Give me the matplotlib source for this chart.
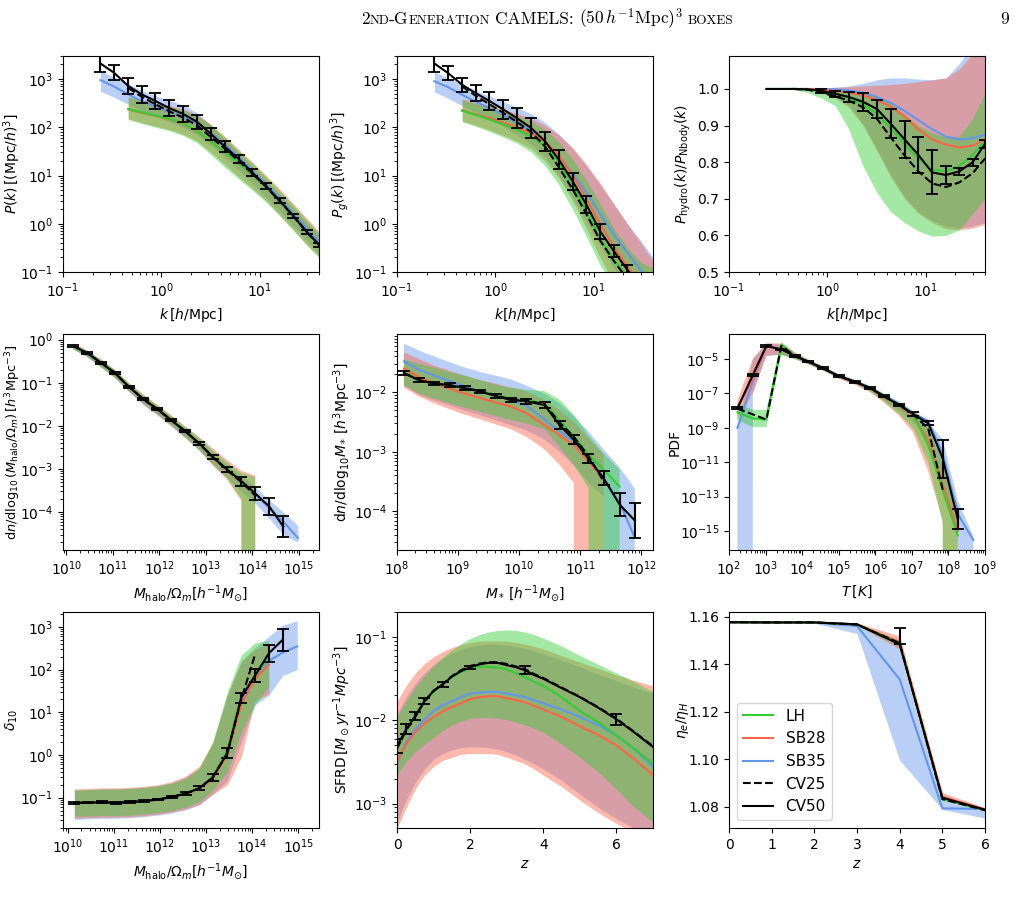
import numpy as np
import matplotlib
matplotlib.use("Agg")
import matplotlib.pyplot as plt
from matplotlib.ticker import LogLocator, FixedLocator

# ---------------- colours ----------------
C_LH, C_SB28, C_SB35 = "#33cc33", "tomato", "cornflowerblue"

# ---------------- panel 1 & 2 & 3 : power spectra ----------------
k_all = [0.24, 0.33, 0.46, 0.63, 0.87, 1.2, 1.65, 2.3, 3.2, 4.4, 6.1, 8.4, 11.6, 16, 22, 30, 40]
k_sub = [0.46, 0.63, 0.87, 1.2, 1.65, 2.3, 3.2, 4.4, 6.1, 8.4, 11.6, 16, 22, 30, 40]

pk_cv50 = [2100, 1350, 720, 480, 350, 250, 190, 130, 72, 40, 22, 11.5, 6.0, 3.0, 1.45, 0.68, 0.37]
pk_cv50_dex = [0.17, 0.16, 0.16, 0.17, 0.17, 0.17, 0.16, 0.15, 0.13, 0.11, 0.09, 0.07, 0.06, 0.05, 0.04, 0.04, 0.04]
pk_cv25 = [650, 430, 300, 215, 160, 110, 62, 36, 20, 11, 5.8, 2.9, 1.42, 0.67, 0.36]
pk_sb35 = [950, 700, 480, 350, 270, 210, 165, 120, 75, 44, 24, 12.5, 6.5, 3.3, 1.6, 0.8, 0.42]
pk_sb35_lo = [560, 420, 300, 220, 170, 130, 100, 70, 42, 24, 13, 6.8, 3.5, 1.8, 0.9, 0.45, 0.24]
pk_sb35_hi = [1450, 1100, 800, 580, 450, 360, 290, 200, 110, 56, 30, 15.5, 8, 4.1, 2.1, 1.05, 0.6]
pk_lh = [240, 205, 175, 150, 120, 85, 50, 30, 18, 10.5, 5.7, 2.9, 1.4, 0.68, 0.37]
pk_lh_lo = [145, 120, 100, 85, 68, 48, 27, 15, 8.5, 5, 2.8, 1.45, 0.72, 0.36, 0.2]
pk_lh_hi = [420, 360, 310, 270, 230, 175, 110, 62, 33, 18, 9.5, 4.8, 2.4, 1.2, 0.65]
pk_sb28 = [235, 200, 172, 147, 118, 84, 50, 30, 18, 10.4, 5.7, 2.9, 1.4, 0.68, 0.37]
pk_sb28_lo = [150, 125, 105, 90, 72, 52, 30, 17, 9.5, 5.4, 3, 1.5, 0.75, 0.37, 0.21]
pk_sb28_hi = [430, 370, 320, 280, 240, 185, 115, 65, 35, 19, 10, 5.2, 2.6, 1.3, 0.7]

pg_cv50 = [2100, 1330, 760, 510, 350, 235, 155, 97, 51, 21.5, 7.6, 2.5, 0.7, 0.27, 0.11, 0.05, 0.025]
pg_cv50_dex = [0.17, 0.15, 0.15, 0.17, 0.18, 0.2, 0.2, 0.2, 0.2, 0.2, 0.18, 0.17, 0.16, 0.12, 0.1, 0.08, 0.08]
pg_cv25 = [700, 450, 300, 200, 130, 80, 40, 15, 5.2, 1.6, 0.45, 0.17, 0.07, 0.032, 0.016]
pg_sb35 = [900, 680, 470, 340, 250, 180, 125, 85, 50, 25, 11, 4.5, 1.6, 0.6, 0.25, 0.11, 0.05]
pg_sb35_lo = [540, 400, 280, 200, 150, 105, 70, 45, 24, 10, 3.5, 1.1, 0.35, 0.12, 0.05, 0.022, 0.01]
pg_sb35_hi = [1400, 1050, 780, 580, 440, 340, 260, 190, 125, 72, 36, 16, 6.5, 2.5, 1.0, 0.45, 0.2]
pg_lh = [220, 180, 145, 115, 90, 65, 40, 19, 6.5, 1.9, 0.5, 0.18, 0.08, 0.035, 0.017]
pg_lh_lo = [130, 105, 82, 63, 47, 31, 16, 6.5, 2.0, 0.55, 0.14, 0.05, 0.022, 0.01, 0.005]
pg_lh_hi = [370, 310, 260, 215, 175, 135, 90, 50, 22, 8, 2.6, 0.8, 0.32, 0.16, 0.12]
pg_sb28 = [225, 185, 155, 125, 100, 76, 50, 27, 10, 3.3, 1.0, 0.33, 0.13, 0.055, 0.026]
pg_sb28_lo = [135, 110, 88, 68, 52, 36, 20, 9, 3, 0.8, 0.2, 0.06, 0.025, 0.011, 0.006]
pg_sb28_hi = [390, 330, 280, 235, 195, 155, 110, 70, 38, 17, 7, 2.6, 1.0, 0.4, 0.17]

r_cv50 = [1.0, 1.0, 1.0, 0.999, 0.995, 0.987, 0.978, 0.965, 0.945, 0.905, 0.862, 0.82, 0.772, 0.765, 0.775, 0.80, 0.85]
r_cv50_err = [0, 0, 0, 0, 0.005, 0.008, 0.015, 0.025, 0.025, 0.04, 0.05, 0.05, 0.06, 0.025, 0.01, 0.01, 0.01]
r_cv25 = [1.0, 0.998, 0.99, 0.98, 0.968, 0.95, 0.918, 0.868, 0.818, 0.775, 0.742, 0.732, 0.745, 0.77, 0.81]
r_lh = [1.0, 0.998, 0.993, 0.985, 0.975, 0.958, 0.932, 0.893, 0.85, 0.81, 0.78, 0.775, 0.79, 0.82, 0.86]
r_lh_lo = [0.998, 0.99, 0.975, 0.955, 0.89, 0.79, 0.716, 0.665, 0.635, 0.612, 0.598, 0.600, 0.615, 0.66, 0.70]
r_lh_hi = [1.0, 1.0, 1.0, 1.0, 0.998, 0.993, 0.98, 0.96, 0.93, 0.9, 0.88, 0.87, 0.87, 0.92, 0.99]
r_sb28 = [1.0, 1.0, 0.998, 0.995, 0.99, 0.983, 0.97, 0.952, 0.925, 0.89, 0.862, 0.848, 0.84, 0.845, 0.862]
r_sb28_lo = [1.0, 0.998, 0.99, 0.975, 0.95, 0.9, 0.83, 0.76, 0.70, 0.66, 0.635, 0.618, 0.615, 0.62, 0.63]
r_sb28_hi = [1.0, 1.0, 1.002, 1.004, 1.006, 1.008, 1.01, 1.012, 1.015, 1.02, 1.025, 1.03, 1.055, 1.095, 1.12]
r_sb35 = [1.0, 1.0, 1.0, 1.0, 1.0, 0.999, 0.996, 0.99, 0.978, 0.962, 0.94, 0.915, 0.89, 0.87, 0.862, 0.866, 0.875]
r_sb35_lo = [1.0, 1.0, 1.0, 0.998, 0.992, 0.978, 0.955, 0.905, 0.835, 0.765, 0.705, 0.665, 0.64, 0.625, 0.62, 0.625, 0.635]
r_sb35_hi = [1.0, 1.0, 1.0, 1.0, 1.002, 1.005, 1.008, 1.015, 1.025, 1.03, 1.03, 1.027, 1.025, 1.03, 1.07, 1.12, 1.2]

# ---------------- panel 4 & 7 : halo mass ----------------
m_halo = [1.4e10, 2.8e10, 5.6e10, 1.1e11, 2.2e11, 4.5e11, 9e11, 1.8e12, 3.6e12, 7.2e12,
          1.4e13, 2.9e13, 5.8e13, 1.15e14, 2.3e14, 4.6e14, 9.5e14]

hmf_cv50 = [0.72, 0.49, 0.29, 0.17, 0.081, 0.042, 0.0245, 0.0136, 0.0075, 0.0039, 0.0019, 0.00096,
            0.00052, 0.00027, 0.000135, 0.000046]
hmf_cv50_dex = [0.02, 0.02, 0.02, 0.02, 0.02, 0.02, 0.02, 0.02, 0.02, 0.03, 0.04, 0.06, 0.1, 0.15, 0.2, 0.25]
hmf_cv25 = [0.72, 0.49, 0.29, 0.17, 0.081, 0.042, 0.0245, 0.0136, 0.0075, 0.0039, 0.0019, 0.00092, 0.0005, 0.00024]
hmf_lh = [0.71, 0.48, 0.285, 0.165, 0.08, 0.042, 0.024, 0.0135, 0.0074, 0.0039, 0.0019, 0.00095, 0.0005, 0.00025]
hmf_lh_lo = [0.6, 0.4, 0.23, 0.135, 0.065, 0.034, 0.019, 0.0105, 0.0056, 0.0028, 0.0013, 0.0006, 0.0002, 0]
hmf_lh_hi = [0.8, 0.56, 0.34, 0.2, 0.098, 0.052, 0.03, 0.017, 0.0095, 0.0052, 0.0027, 0.0014, 0.0008, 0.00065]
hmf_sb28 = [0.72, 0.49, 0.29, 0.168, 0.08, 0.041, 0.024, 0.0133, 0.0073, 0.0038, 0.0018, 0.0009, 0.00048, 0.00024]
hmf_sb28_lo = [0.6, 0.4, 0.23, 0.13, 0.063, 0.032, 0.018, 0.01, 0.0053, 0.0027, 0.0012, 0.00055, 0.00018, 0]
hmf_sb28_hi = [0.82, 0.57, 0.35, 0.205, 0.1, 0.054, 0.031, 0.0175, 0.0098, 0.0055, 0.003, 0.0016, 0.0009, 0.0007]
hmf_sb35 = [0.7, 0.47, 0.28, 0.16, 0.078, 0.04, 0.023, 0.013, 0.0071, 0.0037, 0.0018, 0.0009, 0.00048,
            0.00026, 0.000125, 0.00006, 0.000025]
hmf_sb35_lo = [0.6, 0.4, 0.23, 0.13, 0.062, 0.031, 0.018, 0.0098, 0.0052, 0.0027, 0.0013, 0.00062, 0.0003,
               0.00016, 0.00007, 0.00003, 0.00002]
hmf_sb35_hi = [0.78, 0.54, 0.33, 0.19, 0.094, 0.049, 0.028, 0.016, 0.0088, 0.0047, 0.0024, 0.0012, 0.00068,
               0.00038, 0.00019, 0.0001, 0.000048]

d_cv50 = [0.075, 0.077, 0.078, 0.076, 0.079, 0.083, 0.091, 0.104, 0.125, 0.167, 0.3, 1.1, 22, 72, 240, 500]
d_cv50_dex = [0.03, 0.02, 0.02, 0.02, 0.02, 0.02, 0.02, 0.02, 0.04, 0.04, 0.08, 0.12, 0.12, 0.15, 0.2, 0.26]
d_cv25 = [0.075, 0.077, 0.078, 0.076, 0.079, 0.083, 0.091, 0.104, 0.125, 0.167, 0.3, 1.1, 20, 220]
d_lh = [0.075, 0.077, 0.078, 0.077, 0.079, 0.083, 0.09, 0.103, 0.124, 0.165, 0.31, 1.3, 25, 70, 190]
d_lh_lo = [0.037, 0.037, 0.038, 0.038, 0.039, 0.041, 0.045, 0.05, 0.06, 0.08, 0.15, 0.4, 3.5, 15, 40]
d_lh_hi = [0.15, 0.155, 0.16, 0.16, 0.165, 0.175, 0.19, 0.22, 0.28, 0.5, 2.0, 30, 220, 420, 480]
d_sb28 = [0.075, 0.077, 0.078, 0.077, 0.079, 0.083, 0.09, 0.102, 0.122, 0.16, 0.28, 1.0, 15, 60, 130]
d_sb28_lo = [0.033, 0.034, 0.035, 0.035, 0.036, 0.038, 0.041, 0.046, 0.054, 0.07, 0.12, 0.2, 0.9, 19, 27]
d_sb28_hi = [0.16, 0.165, 0.17, 0.17, 0.175, 0.185, 0.2, 0.24, 0.32, 0.55, 2, 25, 150, 300, 420]
d_sb35 = [0.074, 0.076, 0.077, 0.076, 0.078, 0.082, 0.089, 0.1, 0.12, 0.16, 0.29, 1.1, 18, 65, 160, 250, 350]
d_sb35_lo = [0.031, 0.032, 0.033, 0.033, 0.034, 0.036, 0.039, 0.044, 0.052, 0.068, 0.12, 0.25, 2, 15, 25, 73, 100]
d_sb35_hi = [0.15, 0.155, 0.16, 0.16, 0.165, 0.175, 0.19, 0.22, 0.3, 0.5, 1.8, 25, 160, 330, 600, 1100, 1400]

# ---------------- panel 5 : stellar mass function ----------------
m_star = [1.3e8, 2.3e8, 4.1e8, 7.3e8, 1.3e9, 2.3e9, 4.1e9, 7.3e9, 1.3e10, 2.6e10, 4.6e10, 7.8e10,
          1.36e11, 2.4e11, 4.4e11, 7.8e11]
smf_cv50 = [0.021, 0.016, 0.014, 0.0132, 0.0117, 0.0103, 0.0087, 0.0074, 0.0071, 0.0061, 0.0028, 0.0016,
            0.00077, 0.00036, 0.00013, 0.00007]
smf_cv50_dex = [0.03, 0.03, 0.03, 0.03, 0.03, 0.03, 0.03, 0.03, 0.04, 0.05, 0.07, 0.08, 0.08, 0.12, 0.2, 0.3]
smf_cv25 = [0.021, 0.016, 0.014, 0.0132, 0.0118, 0.0105, 0.0089, 0.0076, 0.0073, 0.0063, 0.0031, 0.0018,
            0.00085, 0.00032]
smf_lh = [0.022, 0.016, 0.014, 0.013, 0.0118, 0.0105, 0.009, 0.0078, 0.0075, 0.0064, 0.0034, 0.0018,
          0.0009, 0.0005, 0.00026]
smf_lh_lo = [0.013, 0.0095, 0.0078, 0.0065, 0.0055, 0.0047, 0.004, 0.0034, 0.003, 0.0024, 0.0012, 0.0006,
             0.00025, 0, 0]
smf_lh_hi = [0.036, 0.03, 0.026, 0.022, 0.019, 0.016, 0.0135, 0.012, 0.011, 0.0105, 0.0075, 0.0042,
             0.0019, 0.00095, 0.0005]
smf_sb28 = [0.025, 0.018, 0.014, 0.0115, 0.0095, 0.008, 0.0068, 0.0058, 0.0045, 0.0028, 0.0019, 0.0013,
            0.0007, 0.00035]
smf_sb28_lo = [0.012, 0.0085, 0.0065, 0.0052, 0.0042, 0.0035, 0.0029, 0.0024, 0.0018, 0.0011, 0.0006,
               0.0003, 0, 0]
smf_sb28_hi = [0.047, 0.036, 0.028, 0.023, 0.019, 0.016, 0.014, 0.012, 0.0105, 0.0075, 0.005, 0.0032,
               0.0017, 0.0009]
smf_sb35 = [0.033, 0.024, 0.019, 0.0155, 0.0125, 0.0105, 0.0088, 0.0074, 0.006, 0.0035, 0.0022, 0.0015,
            0.0008, 0.00037, 0.00014, 0.000036]
smf_sb35_lo = [0.013, 0.009, 0.0072, 0.006, 0.0049, 0.0041, 0.0034, 0.0028, 0.0023, 0.0016, 0.001, 0.0006,
               0.0003, 0.00018, 0, 0]
smf_sb35_hi = [0.066, 0.05, 0.04, 0.032, 0.026, 0.022, 0.019, 0.0165, 0.013, 0.0095, 0.0065, 0.004,
               0.0022, 0.0011, 0.00055, 0.00024]

# ---------------- panel 6 : temperature PDF ----------------
temp = [170, 450, 1050, 2700, 6300, 14500, 37000, 1e5, 2.75e5, 7e5, 1.7e6, 4.5e6, 1.1e7, 2.8e7, 7e7, 1.8e8, 4.8e8]
pdf_cv50 = [1.35e-8, 1.2e-6, 5.7e-5, 3.6e-5, 1.5e-5, 7e-6, 2.9e-6, 1e-6, 4.8e-7, 2.1e-7, 7e-8, 2.1e-8,
            6.3e-9, 1.8e-9, 1.6e-11, 5e-15]
pdf_cv50_dex = [0.05, 0.05, 0.05, 0.05, 0.05, 0.05, 0.05, 0.05, 0.05, 0.05, 0.05, 0.05, 0.1, 0.12, 1.1, 0.6]
pdf_cv25 = [1.3e-8, 6e-9, 3e-9, 5.7e-5, 1.5e-5, 7e-6, 2.9e-6, 1e-6, 4.8e-7, 2.1e-7, 7e-8, 2.1e-8, 6e-9,
            9e-10, 2.5e-13]
pdf_lh = [8e-9, 3.5e-9, 3e-9, 6.6e-5, 1.5e-5, 7e-6, 2.9e-6, 1e-6, 4.7e-7, 2e-7, 6.5e-8, 2e-8, 5.5e-9,
          1e-10, 2.3e-13, 5.6e-16]
pdf_lh_lo = [2.8e-9, 1.1e-9, 1.1e-9, 1.7e-5, 1e-5, 5e-6, 2.2e-6, 8e-7, 3.6e-7, 1.4e-7, 3.5e-8, 6e-9,
             9e-10, 1e-11, 3e-15, 0]
pdf_lh_hi = [2.6e-8, 1.1e-8, 1.1e-8, 1e-4, 2.2e-5, 9e-6, 3.7e-6, 1.25e-6, 6e-7, 2.7e-7, 9.5e-8, 3e-8,
             9e-9, 1.2e-9, 8e-12, 2.5e-14]
pdf_sb28 = [1.5e-8, 7e-7, 5.2e-5, 3.8e-5, 1.5e-5, 7e-6, 2.9e-6, 9.5e-7, 4.5e-7, 1.9e-7, 6e-8, 1.8e-8,
            4.5e-9, 2e-10, 5e-13, 1e-15]
pdf_sb28_lo = [3e-9, 1e-7, 1.5e-5, 1.8e-5, 1e-5, 5e-6, 2.1e-6, 7e-7, 3.2e-7, 1.2e-7, 3e-8, 5e-9, 5e-10,
               3e-12, 4e-15, 0]
pdf_sb28_hi = [4e-8, 1e-5, 8e-5, 8e-5, 2.5e-5, 9.5e-6, 3.8e-6, 1.3e-6, 6e-7, 2.7e-7, 9e-8, 2.8e-8, 8e-9,
               1.2e-9, 1e-11, 3e-14]
pdf_sb35 = [1e-9, 5e-7, 5.5e-5, 3.7e-5, 1.5e-5, 7e-6, 3e-6, 1e-6, 4.8e-7, 2.1e-7, 7.5e-8, 2.3e-8, 7e-9,
            2.5e-9, 3e-11, 1e-14, 3e-16]
pdf_sb35_lo = [0, 1e-7, 1.5e-5, 1.8e-5, 1e-5, 5e-6, 2.2e-6, 7.5e-7, 3.5e-7, 1.4e-7, 4e-8, 1e-8, 2e-9,
               3e-10, 5e-13, 1e-15, 0]
pdf_sb35_hi = [1e-9, 1e-5, 8e-5, 7e-5, 2.2e-5, 9e-6, 3.8e-6, 1.3e-6, 6.2e-7, 2.8e-7, 1e-7, 3.3e-8, 9e-9,
               2.2e-9, 2e-10, 6e-14, 5e-16]
temp_ticks = [1e2, 1e3, 1e4, 1e5, 1e6, 1e7, 1e8, 1e9]

# ---------------- panel 8 : SFRD ----------------
z_sfr = [0, 0.25, 0.5, 0.75, 1, 1.25, 1.5, 1.75, 2, 2.25, 2.5, 2.75, 3, 3.25, 3.5, 3.75, 4, 4.5, 5, 5.5, 6, 6.5, 7]
sfrd_cv50 = [0.0049, 0.0078, 0.0113, 0.017, 0.0227, 0.027, 0.0335, 0.039, 0.0435, 0.047, 0.049, 0.049,
             0.046, 0.0435, 0.040, 0.035, 0.0316, 0.0244, 0.019, 0.0142, 0.0103, 0.0071, 0.0048]
sfrd_cv50_dex = [0.08, 0.06, 0.05, 0.04, 0, 0.03, 0, 0, 0.02, 0, 0, 0, 0, 0, 0.05, 0, 0, 0, 0, 0, 0.065, 0, 0]
sfrd_cv25 = [0.0046, 0.0076, 0.011, 0.0168, 0.0225, 0.0272, 0.034, 0.040, 0.045, 0.048, 0.050, 0.050,
             0.0475, 0.0445, 0.041, 0.036, 0.0322, 0.0248, 0.0192, 0.0144, 0.0105, 0.0072, 0.0049]
sfrd_lh = [0.0045, 0.0075, 0.011, 0.0165, 0.022, 0.027, 0.033, 0.038, 0.042, 0.044, 0.044, 0.043, 0.041,
           0.037, 0.033, 0.029, 0.026, 0.019, 0.013, 0.0095, 0.0066, 0.0045, 0.003]
sfrd_lh_lo = [0.0022, 0.0032, 0.0042, 0.0052, 0.0062, 0.0075, 0.0088, 0.0098, 0.0106, 0.0108, 0.0108,
              0.0106, 0.0102, 0.0095, 0.0088, 0.008, 0.0072, 0.0052, 0.0036, 0.0024, 0.0015, 0.0009, 0.0006]
sfrd_lh_hi = [0.011, 0.017, 0.025, 0.034, 0.045, 0.057, 0.07, 0.083, 0.096, 0.107, 0.115, 0.12, 0.122,
              0.12, 0.115, 0.107, 0.097, 0.078, 0.06, 0.047, 0.037, 0.029, 0.022]
sfrd_sb28 = [0.0032, 0.0052, 0.0072, 0.0092, 0.011, 0.0128, 0.0145, 0.016, 0.018, 0.019, 0.0195, 0.0195,
             0.0185, 0.0175, 0.0165, 0.015, 0.0135, 0.011, 0.0085, 0.0067, 0.005, 0.0034, 0.0022]
sfrd_sb28_lo = [0.0005, 0.0009, 0.0015, 0.0022, 0.0028, 0.0033, 0.0036, 0.0039, 0.004, 0.004, 0.004,
                0.0039, 0.0036, 0.0033, 0.003, 0.0026, 0.0022, 0.0016, 0.0011, 0.00078, 0.00058, 0.00045, 0.00035]
sfrd_sb28_hi = [0.017, 0.026, 0.037, 0.048, 0.058, 0.067, 0.075, 0.081, 0.086, 0.089, 0.09, 0.09, 0.089,
                0.086, 0.082, 0.077, 0.072, 0.06, 0.05, 0.042, 0.035, 0.03, 0.026]
sfrd_sb35 = [0.003, 0.0055, 0.0078, 0.0102, 0.013, 0.0152, 0.017, 0.019, 0.021, 0.0215, 0.022, 0.022,
             0.021, 0.02, 0.019, 0.0175, 0.016, 0.0135, 0.011, 0.0088, 0.0066, 0.0045, 0.0028]
sfrd_sb35_lo = [0.0006, 0.0011, 0.0018, 0.0026, 0.0034, 0.004, 0.0044, 0.0047, 0.0048, 0.0048, 0.0047,
                0.0045, 0.0042, 0.0038, 0.0034, 0.003, 0.0026, 0.0019, 0.0013, 0.0009, 0.00066, 0.0005, 0.0004]
sfrd_sb35_hi = [0.012, 0.019, 0.028, 0.037, 0.047, 0.056, 0.064, 0.071, 0.077, 0.08, 0.082, 0.082, 0.08,
                0.077, 0.073, 0.068, 0.063, 0.053, 0.044, 0.036, 0.03, 0.025, 0.021]

# ---------------- panel 9 : eta_e / eta_H ----------------
z_eta = [0, 1, 2, 3, 4, 5, 6]
eta_cv50 = [1.1578, 1.1577, 1.1577, 1.1569, 1.1485, 1.0838, 1.0787]
eta_cv50_errlo = [0, 0, 0, 0, 0.0001, 0, 0]
eta_cv50_errhi = [0, 0, 0, 0, 0.0070, 0, 0]
eta_cv25 = [1.1578, 1.1577, 1.1577, 1.1568, 1.1490, 1.0832, 1.0785]
eta_lh = [1.1578, 1.1577, 1.1577, 1.1568, 1.1490, 1.0832, 1.0785]
eta_lh_lo = [1.1577, 1.1576, 1.1576, 1.1565, 1.1475, 1.0828, 1.0782]
eta_lh_hi = [1.1579, 1.1578, 1.1578, 1.1570, 1.1500, 1.0838, 1.0788]
eta_sb28 = [1.1578, 1.1577, 1.1577, 1.1569, 1.1495, 1.0842, 1.0789]
eta_sb28_lo = [1.1577, 1.1576, 1.1576, 1.1565, 1.1465, 1.0830, 1.0783]
eta_sb28_hi = [1.1579, 1.1578, 1.1579, 1.1575, 1.1520, 1.0860, 1.0795]
eta_sb35 = [1.1577, 1.1577, 1.1576, 1.1562, 1.1337, 1.0793, 1.0790]
eta_sb35_lo = [1.1576, 1.1576, 1.1574, 1.1530, 1.0996, 1.0788, 1.0752]
eta_sb35_hi = [1.1578, 1.1578, 1.1578, 1.1570, 1.1490, 1.0835, 1.0790]

# =====================================================================
plt.rcParams["font.family"] = ["DejaVu Sans"]
plt.rcParams["xtick.labelsize"] = 10
plt.rcParams["ytick.labelsize"] = 10

W, H = 1017, 909
fig = plt.figure(figsize=(W / 100, H / 100), dpi=100)

col_left = [63, 397, 729]
row_top = [56, 334, 612]
AW, AH = 256, 216
ALPHA = 0.45


def make_ax(r, c):
    l, t = col_left[c], row_top[r]
    return fig.add_axes([l / W, 1 - (t + AH) / H, AW / W, AH / H])


def series(ax, x, m, lo, hi, color, label):
    n = len(m)
    x = np.asarray(x[:n], float)
    ax.fill_between(x, lo, hi, color=color, alpha=ALPHA, lw=0)
    ax.plot(x, m, color=color, lw=1.5, label=label)


def all_series(ax, x, sb35, sb28, lh, cv25, xsb35=None, xsb28=None, xlh=None, xcv25=None):
    series(ax, xsb35 if xsb35 is not None else x, *sb35, C_SB35, "SB35")
    series(ax, xsb28 if xsb28 is not None else x, *sb28, C_SB28, "SB28")
    series(ax, xlh if xlh is not None else x, *lh, C_LH, "LH")
    xc = xcv25 if xcv25 is not None else x
    ax.plot(xc[:len(cv25)], cv25, color="k", ls="--", lw=1.5, label="CV25")


def cv50_dex(ax, x, y, dex):
    x = np.asarray(x[:len(y)], float)
    y = np.asarray(y, float)
    d = np.asarray(dex, float)
    ax.plot(x, y, color="k", lw=1.5, label="CV50")
    m = d > 0
    lo = y - y / 10 ** d
    hi = y * 10 ** d - y
    ax.errorbar(x[m], y[m], yerr=[lo[m], hi[m]], fmt="none", ecolor="k", elinewidth=1.5, capsize=4, capthick=1.3)


def cv50_lin(ax, x, y, elo, ehi):
    x = np.asarray(x[:len(y)], float)
    y = np.asarray(y, float)
    elo = np.asarray(elo, float)
    ehi = np.asarray(ehi, float)
    ax.plot(x, y, color="k", lw=1.5, label="CV50")
    m = (elo + ehi) > 0
    ax.errorbar(x[m], y[m], yerr=[elo[m], ehi[m]], fmt="none", ecolor="k", elinewidth=1.5, capsize=4, capthick=1.3)


def ylab(ax, text, xpix, size=10):
    # xpix: right edge of the rotated label, in pixels from the axes' left spine
    ax.set_ylabel(text, fontsize=size)
    ax.yaxis.set_label_coords(xpix / AW, 0.5)


LF = 10
# ---- panel 1
ax = make_ax(0, 0)
all_series(ax, k_all, (pk_sb35, pk_sb35_lo, pk_sb35_hi), (pk_sb28, pk_sb28_lo, pk_sb28_hi),
           (pk_lh, pk_lh_lo, pk_lh_hi), pk_cv25, xsb28=k_sub, xlh=k_sub, xcv25=k_sub)
cv50_dex(ax, k_all, pk_cv50, pk_cv50_dex)
ax.set_xscale("log"); ax.set_yscale("log")
ax.set_xlim(0.1, 40); ax.set_ylim(0.1, 3000)
ax.set_xlabel(r"$k\,[h/{\rm Mpc}]$", fontsize=LF)
ylab(ax, r"$P(k)\,[({\rm Mpc}/h)^3]$", -40)

# ---- panel 2
ax = make_ax(0, 1)
all_series(ax, k_all, (pg_sb35, pg_sb35_lo, pg_sb35_hi), (pg_sb28, pg_sb28_lo, pg_sb28_hi),
           (pg_lh, pg_lh_lo, pg_lh_hi), pg_cv25, xsb28=k_sub, xlh=k_sub, xcv25=k_sub)
cv50_dex(ax, k_all, pg_cv50, pg_cv50_dex)
ax.set_xscale("log"); ax.set_yscale("log")
ax.set_xlim(0.1, 40); ax.set_ylim(0.1, 3000)
ax.set_xlabel(r"$k[h/{\rm Mpc}]$", fontsize=LF)
ylab(ax, r"$P_g(k)\,[({\rm Mpc}/h)^3]$", -46)

# ---- panel 3
ax = make_ax(0, 2)
all_series(ax, k_all, (r_sb35, r_sb35_lo, r_sb35_hi), (r_sb28, r_sb28_lo, r_sb28_hi),
           (r_lh, r_lh_lo, r_lh_hi), r_cv25, xsb28=k_sub, xlh=k_sub, xcv25=k_sub)
cv50_lin(ax, k_all, r_cv50, r_cv50_err, r_cv50_err)
ax.set_xscale("log")
ax.set_xlim(0.1, 40); ax.set_ylim(0.5, 1.09)
ax.set_xlabel(r"$k[h/{\rm Mpc}]$", fontsize=LF)
ylab(ax, r"$P_{\rm hydro}(k)/P_{\rm Nbody}(k)$", -36)

# ---- panel 4
ax = make_ax(1, 0)
all_series(ax, m_halo, (hmf_sb35, hmf_sb35_lo, hmf_sb35_hi), (hmf_sb28, hmf_sb28_lo, hmf_sb28_hi),
           (hmf_lh, hmf_lh_lo, hmf_lh_hi), hmf_cv25)
cv50_dex(ax, m_halo, hmf_cv50, hmf_cv50_dex)
ax.set_xscale("log"); ax.set_yscale("log")
ax.set_xlim(10 ** 9.93, 10 ** 15.43); ax.set_ylim(10 ** -4.88, 10 ** 0.13)
ax.set_xlabel(r"$M_{\rm halo}/\Omega_m[h^{-1}M_{\odot}]$", fontsize=LF)
ylab(ax, r"${\rm d}n/{\rm dlog}_{10}\,(M_{\rm halo}/\Omega_m)\,[h^3{\rm Mpc}^{-3}]$", -40, size=9.3)

# ---- panel 5
ax = make_ax(1, 1)
all_series(ax, m_star, (smf_sb35, smf_sb35_lo, smf_sb35_hi), (smf_sb28, smf_sb28_lo, smf_sb28_hi),
           (smf_lh, smf_lh_lo, smf_lh_hi), smf_cv25)
cv50_dex(ax, m_star, smf_cv50, smf_cv50_dex)
ax.set_xscale("log"); ax.set_yscale("log")
ax.set_xlim(1e8, 10 ** 12.19); ax.set_ylim(10 ** -4.65, 10 ** -1.02)
ax.set_xlabel(r"$M_*\,[h^{-1}M_{\odot}]$", fontsize=LF)
ylab(ax, r"${\rm d}n/{\rm dlog}_{10}M_*\,[h^3{\rm Mpc}^{-3}]$", -44)

# ---- panel 6
ax = make_ax(1, 2)
all_series(ax, temp, (pdf_sb35, pdf_sb35_lo, pdf_sb35_hi), (pdf_sb28, pdf_sb28_lo, pdf_sb28_hi),
           (pdf_lh, pdf_lh_lo, pdf_lh_hi), pdf_cv25)
cv50_dex(ax, temp, pdf_cv50, pdf_cv50_dex)
ax.set_xscale("log"); ax.set_yscale("log")
ax.set_xlim(1e2, 1e9); ax.set_ylim(10 ** -16.1, 10 ** -3.55)
ax.xaxis.set_major_locator(FixedLocator(temp_ticks))
ax.xaxis.set_minor_locator(LogLocator(base=10, subs=np.arange(2, 10) * 1.0, numticks=20))
ax.set_xlabel(r"$T\,[K]$", fontsize=LF)
ylab(ax, "PDF", -47)

# ---- panel 7
ax = make_ax(2, 0)
all_series(ax, m_halo, (d_sb35, d_sb35_lo, d_sb35_hi), (d_sb28, d_sb28_lo, d_sb28_hi),
           (d_lh, d_lh_lo, d_lh_hi), d_cv25)
cv50_dex(ax, m_halo, d_cv50, d_cv50_dex)
ax.set_xscale("log"); ax.set_yscale("log")
ax.set_xlim(10 ** 9.9, 10 ** 15.45); ax.set_ylim(10 ** -1.71, 10 ** 3.35)
ax.set_xlabel(r"$M_{\rm halo}/\Omega_m[h^{-1}M_{\odot}]$", fontsize=LF)
ylab(ax, r"$\delta_{10}$", -43)

# ---- panel 8
ax = make_ax(2, 1)
all_series(ax, z_sfr, (sfrd_sb35, sfrd_sb35_lo, sfrd_sb35_hi), (sfrd_sb28, sfrd_sb28_lo, sfrd_sb28_hi),
           (sfrd_lh, sfrd_lh_lo, sfrd_lh_hi), sfrd_cv25)
cv50_dex(ax, z_sfr, sfrd_cv50, sfrd_cv50_dex)
ax.set_yscale("log")
ax.set_xlim(0, 7); ax.set_ylim(5.1e-4, 0.2)
ax.set_xlabel(r"$z$", fontsize=LF)
ylab(ax, r"SFRD$\,[M_\odot yr^{-1}Mpc^{-3}]$", -44)

# ---- panel 9
ax = make_ax(2, 2)
all_series(ax, z_eta, (eta_sb35, eta_sb35_lo, eta_sb35_hi), (eta_sb28, eta_sb28_lo, eta_sb28_hi),
           (eta_lh, eta_lh_lo, eta_lh_hi), eta_cv25)
cv50_lin(ax, z_eta, eta_cv50, eta_cv50_errlo, eta_cv50_errhi)
ax.set_xlim(0, 6); ax.set_ylim(1.071, 1.1621)
ax.set_xlabel(r"$z$", fontsize=LF)
ylab(ax, r"$\eta_e/\eta_H$", -38)
hdl, lab = ax.get_legend_handles_labels()
order = ["LH", "SB28", "SB35", "CV25", "CV50"]
hmap = dict(zip(lab, hdl))
ax.legend([hmap[o] for o in order], order, loc="lower left", fontsize=11)

# ---------------- header ----------------
renderer = fig.canvas.get_renderer()
BIG, SMALL = 12.5, 9.5
segs = [("2", BIG, 0), ("ND", SMALL, 0), ("-G", BIG, 0), ("ENERATION", SMALL, 0),
        ("CAMELS:", BIG, 5), (r"$(50\,h^{-1}\mathrm{Mpc})^3$", BIG, 5), ("BOXES", SMALL, 5)]
ybase = 1 - 24 / H
texts, widths, gaps = [], [], []
for s, size, gap in segs:
    t = fig.text(0, ybase, s, fontsize=size, family="cmr10", math_fontfamily="cm", va="baseline", ha="left")
    widths.append(t.get_window_extent(renderer).width)
    gaps.append(gap)
    texts.append(t)
total = sum(widths) + sum(gaps)
x = 547 - total / 2
for t, w, g in zip(texts, widths, gaps):
    x += g
    t.set_x(x / W)
    x += w
fig.text(1005 / W, ybase, "9", fontsize=BIG, family="cmr10", va="baseline", ha="center")

fig.savefig("out.png", dpi=100)
